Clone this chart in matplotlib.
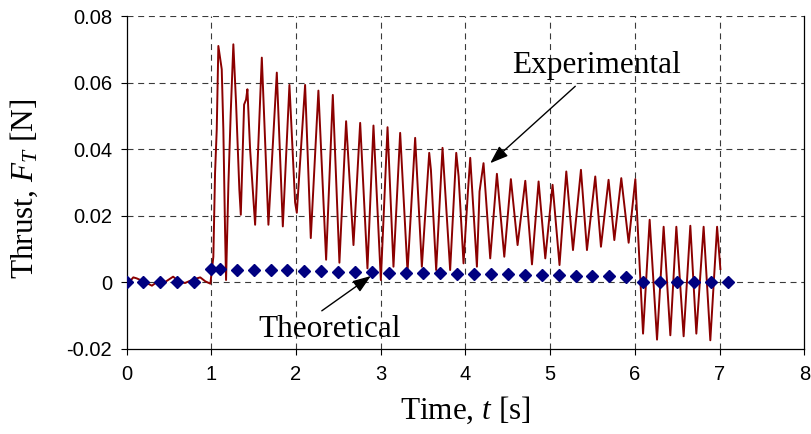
import matplotlib
matplotlib.use("Agg")
import matplotlib.pyplot as plt

# Measured thrust signal: turning points of the oscillating trace (time [s], thrust [N])
exp_time = [
    0.00, 0.04, 0.08, 0.12, 0.20, 0.30, 0.38, 0.45, 0.55, 0.62, 0.69, 0.78, 0.87, 0.93, 0.99,
    1.025, 1.045, 1.065, 1.084, 1.124, 1.143, 1.163, 1.175, 1.203, 1.230, 1.261, 1.293, 1.332,
    1.349, 1.388, 1.411, 1.427, 1.459, 1.518, 1.597, 1.675, 1.774, 1.845, 1.923, 1.990, 2.010,
    2.108, 2.175, 2.265, 2.356, 2.435, 2.513, 2.592, 2.679, 2.758, 2.844, 2.915, 3.002, 3.081,
    3.151, 3.230, 3.317, 3.407, 3.486, 3.573, 3.593, 3.655, 3.730, 3.820, 3.892, 3.920, 3.978,
    4.030, 4.057, 4.136, 4.167, 4.214, 4.293, 4.372, 4.459, 4.537, 4.616, 4.707, 4.786, 4.864,
    4.943, 5.029, 5.111, 5.191, 5.270, 5.364, 5.435, 5.533, 5.600, 5.690, 5.758, 5.840, 5.927,
    6.006, 6.097, 6.175, 6.262, 6.340, 6.419, 6.490, 6.576, 6.655, 6.726, 6.812, 6.891, 6.971,
    7.010,
]
exp_thrust = [
    0.0000, 0.0003, 0.0015, 0.0012, 0.0003, -0.0010, 0.0005, 0.0000, 0.0017, 0.0003, -0.0002,
    0.0008, 0.0015, 0.0003, -0.0004,
    0.0077, 0.0328, 0.0459, 0.0710, 0.0640, 0.0459, 0.0158, 0.0007, 0.0298, 0.0509, 0.0715,
    0.0539, 0.0278, 0.0203, 0.0534, 0.0549, 0.0580, 0.0398, 0.0173, 0.0675, 0.0173, 0.0630,
    0.0168, 0.0593, 0.0240, 0.0209, 0.0593, 0.0133, 0.0576, 0.0068, 0.0563, 0.0059, 0.0484,
    0.0112, 0.0479, 0.0042, 0.0471, 0.0007, 0.0466, 0.0047, 0.0449, 0.0032, 0.0434, 0.0047,
    0.0389, 0.0338, 0.0037, 0.0404, 0.0037, 0.0389, 0.0318, 0.0057, 0.0273, 0.0374, 0.0047,
    0.0273, 0.0358, 0.0072, 0.0326, 0.0077, 0.0310, 0.0112, 0.0305, 0.0054, 0.0303, 0.0072,
    0.0293, 0.0052, 0.0333, 0.0097, 0.0338, 0.0097, 0.0318, 0.0107, 0.0308, 0.0127, 0.0313,
    0.0119, 0.0310, -0.0154, 0.0188, -0.0172, 0.0167, -0.0159, 0.0167, -0.0162, 0.0170,
    -0.0154, 0.0167, -0.0174, 0.0167, 0.0040,
]

# Predicted thrust
theo_time = [0.0, 0.2, 0.4, 0.6, 0.8, 1.0, 1.1, 1.3, 1.5, 1.7, 1.9, 2.1, 2.3, 2.5, 2.7, 2.9,
             3.1, 3.3, 3.5, 3.7, 3.9, 4.1, 4.3, 4.5, 4.7, 4.9, 5.1, 5.3, 5.5, 5.7, 5.9,
             6.1, 6.3, 6.5, 6.7, 6.9, 7.1]
theo_thrust = [0.0, 0.0, 0.0, 0.0, 0.0, 0.0041, 0.0041, 0.0037, 0.0037, 0.0036, 0.0036,
               0.0033, 0.0033, 0.0032, 0.0032, 0.0030, 0.0029, 0.0029, 0.0028, 0.0027,
               0.0026, 0.0025, 0.0025, 0.0024, 0.0023, 0.0022, 0.0021, 0.0020, 0.0019,
               0.0018, 0.0017, 0.0, 0.0, 0.0, 0.0, 0.0, 0.0]

x_ticks = [0, 1, 2, 3, 4, 5, 6, 7, 8]
x_tick_labels = ["0", "1", "2", "3", "4", "5", "6", "7", "8"]
y_ticks = [-0.02, 0.0, 0.02, 0.04, 0.06, 0.08]
y_tick_labels = ["-0.02", "0", "0.02", "0.04", "0.06", "0.08"]

plt.rcParams["mathtext.fontset"] = "custom"
plt.rcParams["mathtext.rm"] = "Liberation Serif"
plt.rcParams["mathtext.it"] = "Liberation Serif:italic"
plt.rcParams["lines.scale_dashes"] = False

SERIF = "Liberation Serif"
SANS = "Liberation Sans"
LABEL_SIZE = 22.5

fig = plt.figure(figsize=(8.11, 4.34), dpi=100)
ax = fig.add_axes([0.156, 0.196, 0.8357, 0.7671])

ax.set_xlim(0, 8)
ax.set_ylim(-0.02, 0.08)

# dashed grid
grid_style = dict(color="#3a3a3a", lw=0.8, ls=(0, (4.3, 3.4)), zorder=1)
for gx in x_ticks[1:-1]:
    ax.axvline(gx, **grid_style)
for gy in y_ticks[1:]:
    ax.axhline(gy, **grid_style)

ax.plot(exp_time, exp_thrust, color="#8B0000", lw=1.4, zorder=3)
ax.plot(theo_time, theo_thrust, ls="none", marker="D", ms=6.2,
        color="#000080", mec="#000080", zorder=4)

ax.spines["top"].set_visible(False)
for side in ("left", "bottom", "right"):
    ax.spines[side].set_linewidth(0.9)
    ax.spines[side].set_color("black")

ax.set_xticks(x_ticks)
ax.set_xticklabels(x_tick_labels)
ax.set_yticks(y_ticks)
ax.set_yticklabels(y_tick_labels)
ax.tick_params(direction="out", length=4.3, width=0.8, color="black",
               labelsize=14.5, pad=7)
ax.tick_params(axis="y", pad=6)
for lab in ax.get_xticklabels() + ax.get_yticklabels():
    lab.set_fontfamily(SANS)

ax.set_xlabel("Time, $t$ [s]", fontfamily=SERIF, fontsize=LABEL_SIZE, labelpad=8)
ax.set_ylabel("Thrust, $F_T$ [N]", fontfamily=SERIF, fontsize=LABEL_SIZE)
ax.yaxis.set_label_coords(-0.128, 0.48)

arrow_props = dict(arrowstyle="-|>,head_length=0.55,head_width=0.2",
                   color="black", lw=1.0, shrinkA=0, shrinkB=0, mutation_scale=20)

ax.text(5.547, 0.0630, "Experimental", fontfamily=SERIF, fontsize=LABEL_SIZE,
        ha="center", va="baseline", zorder=5)
ax.annotate("", xy=(4.293, 0.0358), xytext=(5.297, 0.0589),
            arrowprops=arrow_props, zorder=5)

ax.text(2.392, -0.01639, "Theoretical", fontfamily=SERIF, fontsize=LABEL_SIZE,
        ha="center", va="baseline", zorder=5)
ax.annotate("", xy=(2.884, 0.0019), xytext=(2.305, -0.00855),
            arrowprops=arrow_props, zorder=5)

fig.savefig("out.png", dpi=100)
